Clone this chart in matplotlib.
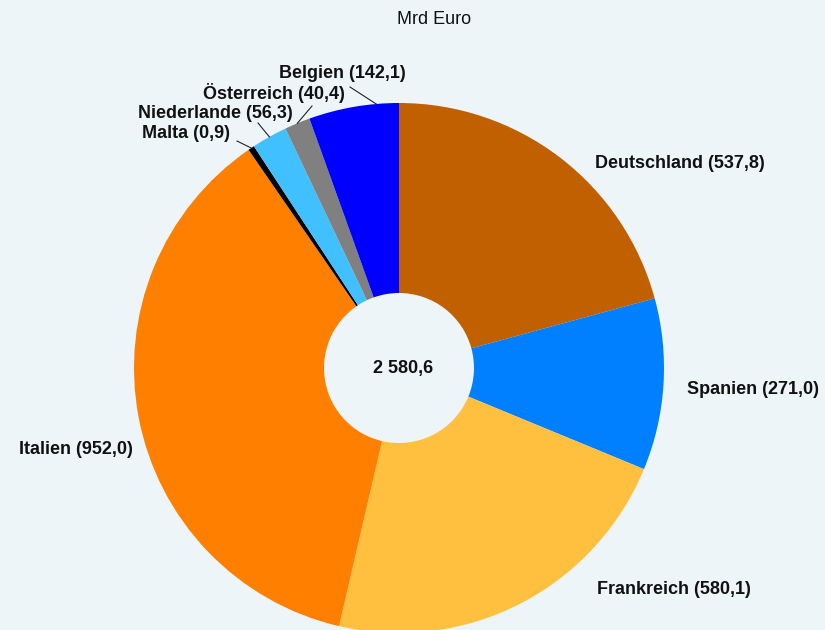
import numpy as np
import matplotlib.pyplot as plt

plt.rcParams['font.family'] = ['Liberation Sans', 'DejaVu Sans']

countries = ['Deutschland', 'Spanien', 'Frankreich', 'Italien',
             'Malta', 'Niederlande', 'Österreich', 'Belgien']
values = [537.8, 271.0, 580.1, 952.0, 0.9, 56.3, 40.4, 142.1]
colors = ['#c06000', '#0080ff', '#ffc040', '#ff8000',
          '#000000', '#40c0ff', '#808080', '#0000ff']
total_label = '2 580,6'
unit = 'Mrd Euro'

bg = '#edf5f9'
W, H = 825, 630
cx, cy, r = 399, H - 368, 265

fig = plt.figure(figsize=(8.25, 6.3), dpi=100, facecolor=bg)
ax = fig.add_axes([0, 0, 1, 1])
ax.set_facecolor(bg)

# tiny slices get a minimum width so Malta stays visible
plot_vals = [max(v, 10) for v in values]
wedges, _ = ax.pie(plot_vals, colors=colors, startangle=90, counterclock=False,
                   center=(cx, cy), radius=r,
                   wedgeprops=dict(width=r * 0.717, linewidth=0), frame=True)
ax.set_xlim(0, W)
ax.set_ylim(0, H)
ax.set_aspect('equal')
ax.axis('off')

# label anchors (pixels from top) and alignment
label_pos = [(595, 163, 'left'), (687, 389, 'left'), (597, 589, 'left'),
             (133, 450, 'right'), (230, 133, 'right'), (293, 113, 'right'),
             (345, 93, 'right'), (342, 73, 'center')]
leader_end = {4: (237, 141), 5: (258, 123), 6: (312, 106), 7: (350, 87)}
leader_frac = {4: 0.5, 5: 0.5, 6: 0.5, 7: 0.75}

for i, (name, v) in enumerate(zip(countries, values)):
    x, y, ha = label_pos[i]
    txt = f'{name} ({v:.1f})'.replace('.', ',')
    ax.text(x, H - y, txt, ha=ha, va='center', fontsize=13, fontweight='bold', color='#111111')
    if i in leader_end:
        w = wedges[i]
        f = leader_frac[i]
        ang = np.deg2rad(w.theta1 * f + w.theta2 * (1 - f))
        ex, ey = cx + r * np.cos(ang), cy + r * np.sin(ang)
        lx, ly = leader_end[i]
        ax.plot([ex, lx], [ey, H - ly], color='#222222', lw=0.8)

ax.text(cx + 4, cy, total_label, ha='center', va='center', fontsize=13,
        fontweight='bold', color='#111111')
ax.text(434, H - 20, unit, ha='center', va='center', fontsize=13, color='#111111')

fig.savefig('out.png', dpi=100, facecolor=bg)
